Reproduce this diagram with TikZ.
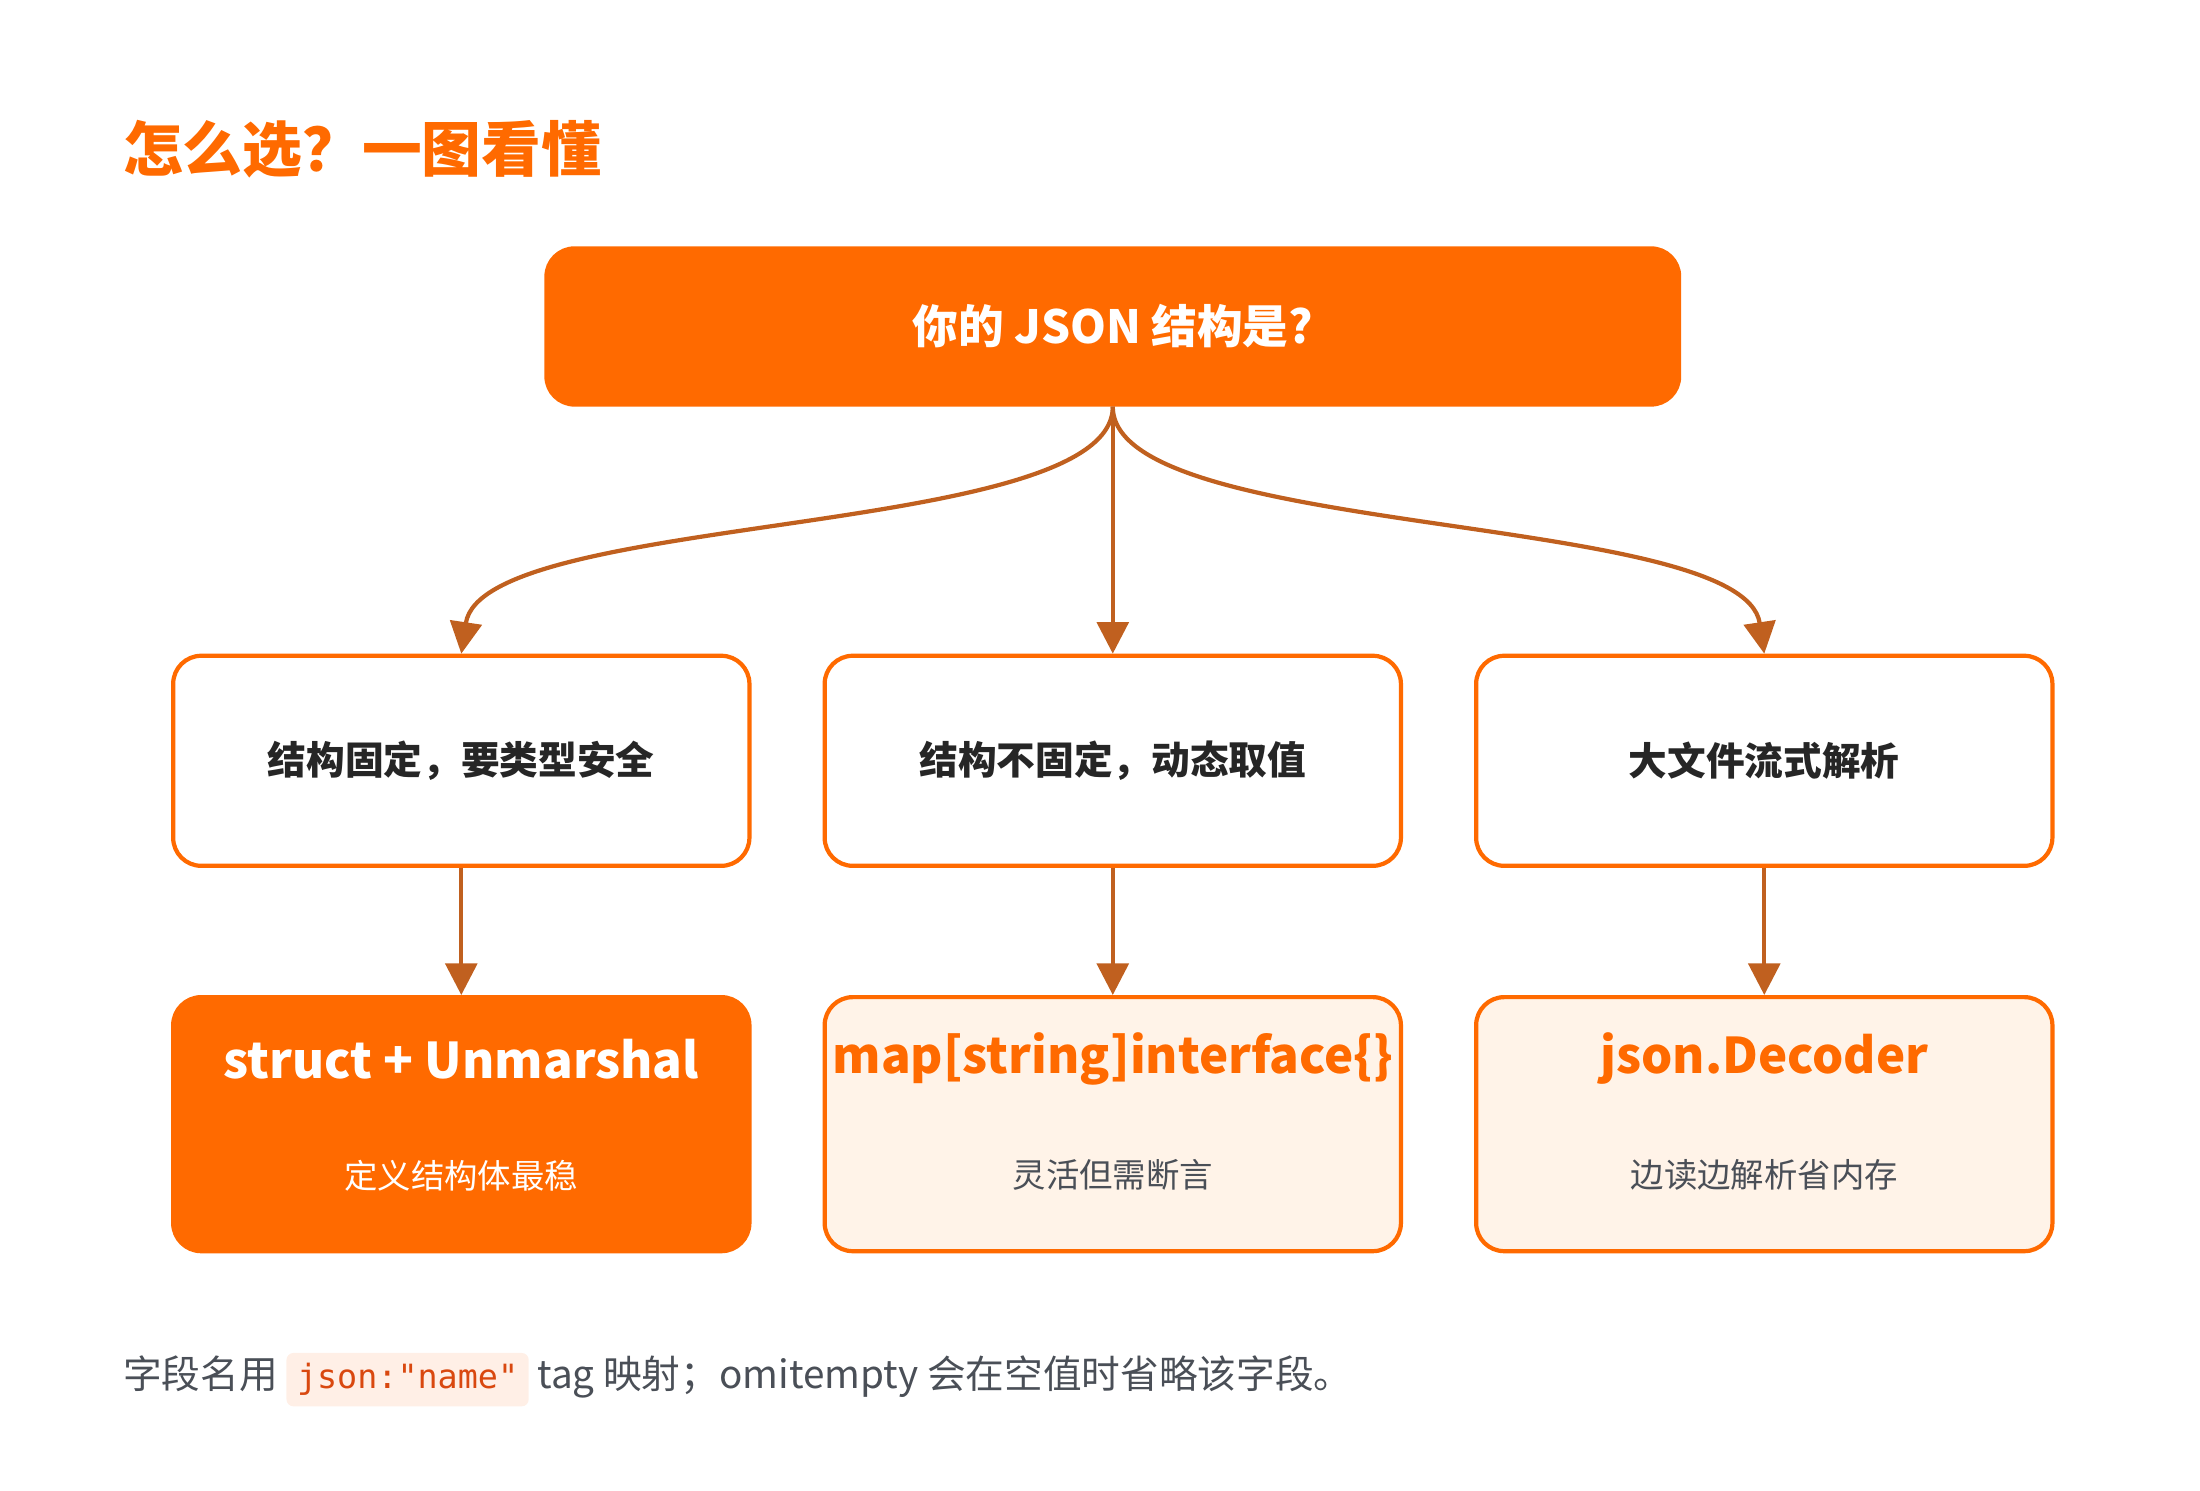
\documentclass[tikz,border=0pt]{standalone}
\usepackage{fontspec}
\setmainfont{Noto Sans CJK SC}
\newfontfamily\codefont{DejaVu Sans Mono}
\usetikzlibrary{arrows.meta}
\definecolor{brand}{HTML}{FF6A00}
\definecolor{arrowc}{HTML}{C0601F}
\definecolor{softbg}{HTML}{FFF3E8}
\definecolor{txtgray}{HTML}{4A4F57}
\definecolor{codebg}{HTML}{FFEFE6}
\definecolor{codefg}{HTML}{D9480F}

\begin{document}
\begin{tikzpicture}[x=0.01419cm,y=-0.01419cm,
    box/.style={draw=brand, line width=1.2pt, rounded corners=8pt, minimum width=406*0.01419cm, inner sep=0pt},
    ask/.style={box, fill=white, minimum height=148*0.01419cm, font=\fontsize{11}{13}\selectfont\bfseries, text=black!85},
    pick/.style={box, fill=softbg, minimum height=179*0.01419cm},
    link/.style={draw=arrowc, line width=1.2pt, -{Triangle[length=9pt,width=9pt]}}]
    \useasboundingbox (0,0) rectangle (1550,1050);

    \node[anchor=west, text=brand, font=\fontsize{17}{20}\selectfont\bfseries] (title) at (78,105) {怎么选？一图看懂};

    \node[box, fill=brand, minimum width=798*0.01419cm, minimum height=110*0.01419cm, text=white,
          font=\fontsize{13}{15}\selectfont\bfseries] (root) at (784,230) {你的 JSON 结构是?};

    \node[ask] (fixed) at (325,536) {结构固定，要类型安全};
    \node[ask] (loose) at (784,536) {结构不固定，动态取值};
    \node[ask] (big) at (1243,536) {大文件流式解析};

    \node[pick, fill=brand] (unm) at (325,792) {};
    \node[pick] (map) at (784,792) {};
    \node[pick] (dec) at (1243,792) {};

    \node[text=white, font=\fontsize{14}{16}\selectfont\bfseries] at (325,746) {struct + Unmarshal};
    \node[text=white, font=\fontsize{9.5}{11}\selectfont] at (325,828) {定义结构体最稳};
    \node[text=brand, font=\fontsize{14}{16}\selectfont\bfseries] at (784,746) {map[string]interface\{\}};
    \node[text=txtgray, font=\fontsize{9.5}{11}\selectfont] at (784,828) {灵活但需断言};
    \node[text=brand, font=\fontsize{14}{16}\selectfont\bfseries] at (1243,746) {json.Decoder};
    \node[text=txtgray, font=\fontsize{9.5}{11}\selectfont] at (1243,828) {边读边解析省内存};

    \draw[link] (root.south) .. controls (784,380) and (340,360) .. (fixed.north);
    \draw[link] (root.south) -- (loose.north);
    \draw[link] (root.south) .. controls (784,380) and (1228,360) .. (big.north);
    \draw[link] (fixed) -- (unm);
    \draw[link] (loose) -- (map);
    \draw[link] (big) -- (dec);

    \node[anchor=west, text=txtgray, font=\fontsize{11}{13}\selectfont] (note) at (78,972)
      {字段名用 \tikz[baseline=(c.base)]\node[fill=codebg, rounded corners=2pt, inner sep=3pt, text=codefg] (c) {\codefont\fontsize{9.5}{11}\selectfont json:"name"};{} tag 映射；omitempty 会在空值时省略该字段。};
\end{tikzpicture}
\end{document}
